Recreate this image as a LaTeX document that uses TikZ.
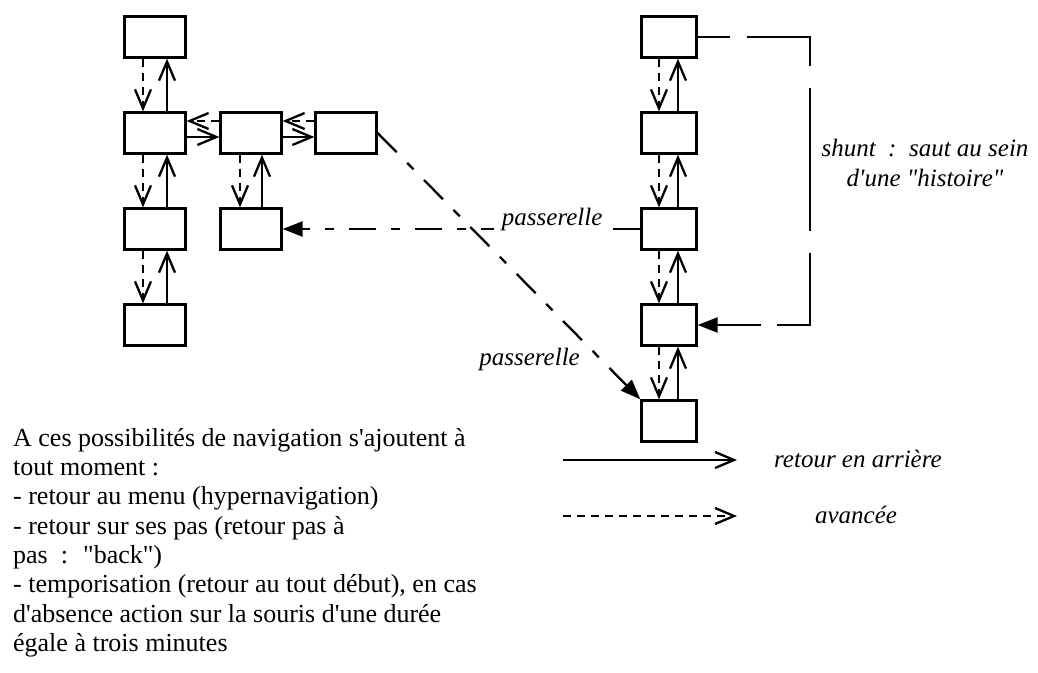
\documentclass[tikz,border=0pt]{standalone}
\usepackage{fontspec}
\setmainfont{Liberation Serif}[Ligatures=TeXOff]
\usetikzlibrary{arrows.meta}

\begin{document}
\begin{tikzpicture}[x=1pt,y=-1pt,line width=2.3pt,
ecran/.style={draw,minimum width=61pt,minimum height=41pt,inner sep=0pt},
ecrand/.style={ecran,minimum width=55pt},
retour/.style={-{Straight Barb[length=19pt,width=16pt]}},
avance/.style={retour,dash pattern=on 8pt off 6pt},
pont/.style={-{Triangle[length=20pt,width=15pt]},dash pattern=on 27pt off 15pt on 9pt off 15pt},
saut/.style={-{Triangle[length=20pt,width=15pt]},dash pattern=on 32pt off 17pt on 92pt off 22pt on 143pt off 22pt on 105pt off 16pt on 200pt off 1pt},
legende/.style={font=\fontsize{25}{30}\selectfont\itshape,inner sep=0pt}]
\useasboundingbox (0,0) rectangle (1038,672);
% ecrans de gauche
\node[ecran] (a) at (155,37) {};
\node[ecran] (b) at (155,133) {}; \node[ecran] (c) at (251,133) {}; \node[ecran] (d) at (346,133) {};
\node[ecran] (e) at (155,229) {}; \node[ecran] (f) at (251,229) {};
\node[ecran] (g) at (155,325) {};
\draw[avance] ([xshift=-12pt]a.south)--([xshift=-12pt]b.north); \draw[retour] ([xshift=12pt]b.north)--([xshift=12pt]a.south);
\draw[avance] ([xshift=-12pt]b.south)--([xshift=-12pt]e.north); \draw[retour] ([xshift=12pt]e.north)--([xshift=12pt]b.south);
\draw[avance] ([xshift=-12pt]e.south)--([xshift=-12pt]g.north); \draw[retour] ([xshift=12pt]g.north)--([xshift=12pt]e.south);
\draw[avance] ([xshift=-11pt]c.south)--([xshift=-11pt]f.north); \draw[retour] ([xshift=11pt]f.north)--([xshift=11pt]c.south);
\draw[avance] ([yshift=12pt]c.west)--([yshift=12pt]b.east); \draw[retour] ([yshift=-4pt]b.east)--([yshift=-4pt]c.west);
\draw[avance] ([yshift=12pt]d.west)--([yshift=12pt]c.east); \draw[retour] ([yshift=-4pt]c.east)--([yshift=-4pt]d.west);
% histoire de droite
\node[ecrand] (r1) at (669,37) {}; \node[ecrand] (r2) at (669,133) {}; \node[ecrand] (r3) at (669,229) {};
\node[ecrand] (r4) at (669,325) {}; \node[ecrand] (r5) at (669,421) {};
\draw[avance] ([xshift=-10pt]r1.south)--([xshift=-10pt]r2.north); \draw[retour] ([xshift=9pt]r2.north)--([xshift=9pt]r1.south);
\draw[avance] ([xshift=-10pt]r2.south)--([xshift=-10pt]r3.north); \draw[retour] ([xshift=9pt]r3.north)--([xshift=9pt]r2.south);
\draw[avance] ([xshift=-10pt]r3.south)--([xshift=-10pt]r4.north); \draw[retour] ([xshift=9pt]r4.north)--([xshift=9pt]r3.south);
\draw[avance] ([xshift=-10pt]r4.south)--([xshift=-10pt]r5.north); \draw[retour] ([xshift=9pt]r5.north)--([xshift=9pt]r4.south);
% passerelles et shunt
\draw[pont] (r3.west) -- node[legende,pos=0.2465,anchor=base,yshift=4pt,fill=white,inner xsep=8pt] (p1) {passerelle} (f.east);
\draw[pont] (d.east) -- node[legende,pos=0.85,anchor=base east,xshift=-20pt,yshift=-6pt] (p2) {passerelle} (r5.north west);
\coordinate (sx) at (810,0);
\draw[saut] (r1.east) -- (r1.east -| sx) -- (r4.east -| sx) -- (r4.east);
\node[legende,align=center] (sh) at (925,163) {shunt\ \ :\ \ saut au sein\\d'une "histoire"};
% legende
\coordinate (l1) at (563,460); \coordinate (l2) at (737,460); \coordinate (l3) at (563,516); \coordinate (l4) at (737,516);
\draw[retour] (l1)--(l2); \draw[avance] (l3)--(l4);
\node[legende,anchor=base west] (t1) at (773,467) {retour en arrière};
\node[legende,anchor=base] (t2) at (856,523) {avancée};
% texte
\node[anchor=north west,align=left,inner sep=0pt,font=\fontsize{26}{29.3}\selectfont] (txt) at (12,427) {A ces possibilités de navigation s'ajoutent à\\tout moment~:\\- retour au menu (hypernavigation)\\- retour sur ses pas (retour pas à\\pas~ :~ "back")\\- temporisation (retour au tout début), en cas\\d'absence action sur la souris d'une durée\\égale à trois minutes};
\end{tikzpicture}
\end{document}
